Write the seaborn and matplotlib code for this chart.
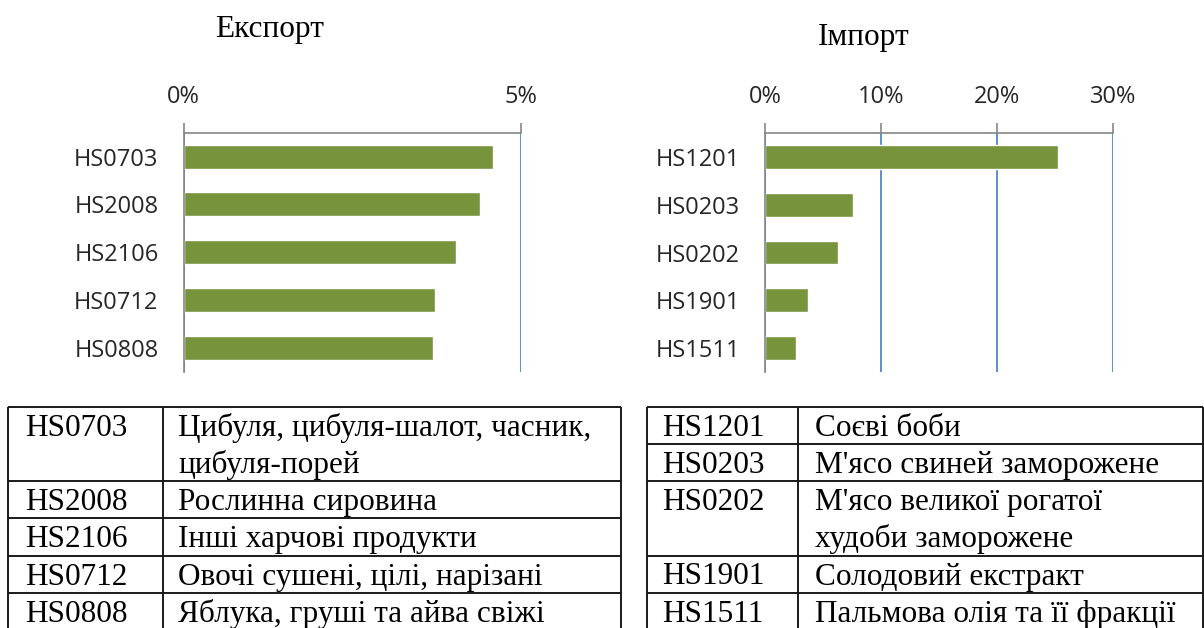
import matplotlib
matplotlib.use("Agg")
import matplotlib.pyplot as plt
import seaborn as sns

# --- data ---------------------------------------------------------------
exp_codes = ["HS0703", "HS2008", "HS2106", "HS0712", "HS0808"]
exp_share = [4.58, 4.39, 4.04, 3.73, 3.69]          # % of export
exp_ticks = [0, 5]

imp_codes = ["HS1201", "HS0203", "HS0202", "HS1901", "HS1511"]
imp_share = [25.3, 7.6, 6.3, 3.7, 2.65]              # % of import
imp_ticks = [0, 10, 20, 30]

exp_names = [
    "Цибуля, цибуля-шалот, часник,\nцибуля-порей",
    "Рослинна сировина",
    "Інші харчові продукти",
    "Овочі сушені, цілі, нарізані",
    "Яблука, груші та айва свіжі",
]
imp_names = [
    "Соєві боби",
    "М'ясо свиней заморожене",
    "М'ясо великої рогатої\nхудоби заморожене",
    "Солодовий екстракт",
    "Пальмова олія та її фракції",
]

# --- style --------------------------------------------------------------
GREEN = "#77933C"
GRID_BLUE = "#5585C5"
AXIS_GRAY = "#868686"
LABEL = "#262626"
W, H = 1204, 628

sns.set_theme(style="white")
plt.rcParams["font.family"] = ["Open Sans", "DejaVu Sans"]
SERIF = ["Liberation Serif", "DejaVu Serif"]
SERIF_SIZE = 22.5

fig = plt.figure(figsize=(W / 100, H / 100), dpi=100)


def bar_panel(rect, codes, values, ticks):
    ax = fig.add_axes(rect)
    sns.barplot(x=values, y=codes, color=GREEN, width=0.5, saturation=1,
                orient="h", ax=ax)
    ax.set_xlim(ticks[0], ticks[-1])
    ax.set_xticks(ticks)
    ax.set_xticklabels([f"{t}%" for t in ticks])
    ax.xaxis.tick_top()
    ax.tick_params(axis="x", top=True, bottom=False, direction="out",
                   length=7, width=1.2, color=AXIS_GRAY, pad=10,
                   labelsize=17, labelcolor=LABEL)
    ax.tick_params(axis="y", left=False, length=0, pad=18,
                   labelsize=17, labelcolor=LABEL)
    ax.grid(axis="x", color=GRID_BLUE, linewidth=1.3)
    ax.grid(axis="y", visible=False)
    ax.set_axisbelow(True)
    for side in ["right", "bottom"]:
        ax.spines[side].set_visible(False)
    for side in ["top", "left"]:
        ax.spines[side].set_color(AXIS_GRAY)
        ax.spines[side].set_linewidth(1.2)
    ax.set_xlabel("")
    ax.set_ylabel("")
    return ax


bar_panel([183.5 / W, 1 - 371.7 / H, (521 - 183.5) / W, 239 / H],
          exp_codes, exp_share, exp_ticks)
bar_panel([765 / W, 1 - 372 / H, (1112.7 - 765) / W, 239 / H],
          imp_codes, imp_share, imp_ticks)

# overlay in pixel coordinates for titles and the two legend tables
ov = fig.add_axes([0, 0, 1, 1], zorder=-1)
ov.set_xlim(0, W)
ov.set_ylim(H, 0)
ov.axis("off")

ov.text(270, 29, "Експорт", ha="center", va="center", fontsize=SERIF_SIZE,
        family=SERIF, color="black")
ov.text(864, 37, "Імпорт", ha="center", va="center", fontsize=SERIF_SIZE,
        family=SERIF, color="black")


def draw_table(codes, names, x0, x_div, x1, y0, code_dx, name_dx,
               line_h=37.2, base_dy=29):
    kw = dict(color="#1a1a1a", linewidth=1.4, solid_capstyle="butt")
    ov.plot([x0, x1], [y0, y0], **kw)
    y = y0
    for code, name in zip(codes, names):
        lines = name.split("\n")
        ov.text(x0 + code_dx, y + base_dy, code, va="baseline",
                fontsize=SERIF_SIZE, family=SERIF, color="black")
        for i, ln in enumerate(lines):
            ov.text(x_div + name_dx, y + base_dy + i * line_h, ln,
                    va="baseline", fontsize=SERIF_SIZE, family=SERIF,
                    color="black")
        y += len(lines) * line_h
        ov.plot([x0, x1], [y, y], **kw)
    for xv in (x0, x_div, x1):
        ov.plot([xv, xv], [y0, H + 5], **kw)


draw_table(exp_codes, exp_names, 8, 163.3, 620.7, 406.7, 17, 15)
draw_table(imp_codes, imp_names, 646.7, 798.3, 1202.5, 406.7, 15, 17)

fig.savefig("out.png", dpi=100)
